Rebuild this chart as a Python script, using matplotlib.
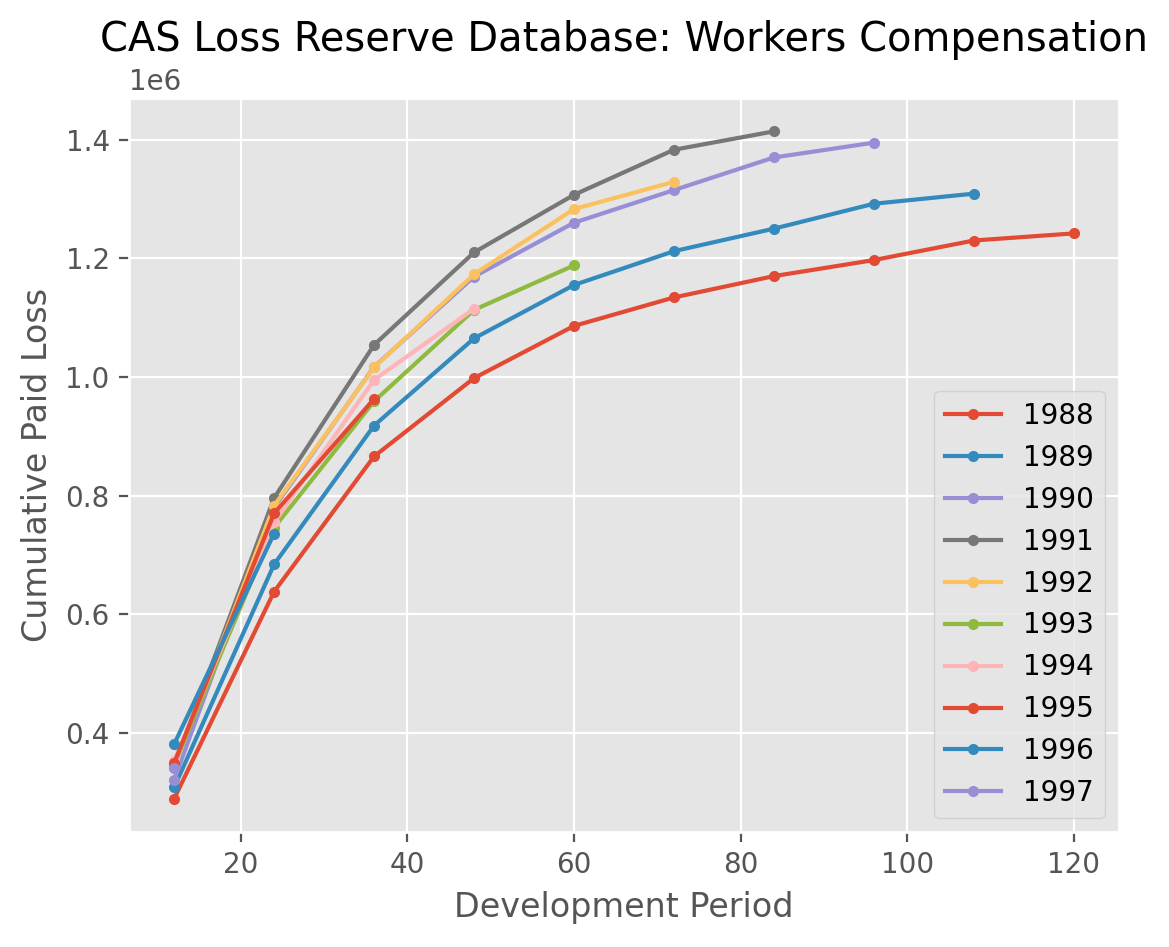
import matplotlib
matplotlib.use("Agg")
import matplotlib.pyplot as plt

plt.style.use("ggplot")

# 发展期（月）
periods = [12, 24, 36, 48, 60, 72, 84, 96, 108, 120]
years = [1988, 1989, 1990, 1991, 1992, 1993, 1994, 1995, 1996, 1997]

# 累计已付损失（百万）
paid_1988 = [0.289, 0.638, 0.866, 0.998, 1.086, 1.134, 1.170, 1.197, 1.230, 1.242]
paid_1989 = [0.308, 0.684, 0.918, 1.065, 1.155, 1.212, 1.250, 1.292, 1.309]
paid_1990 = [0.321, 0.780, 1.017, 1.169, 1.260, 1.315, 1.370, 1.395]
paid_1991 = [0.345, 0.796, 1.054, 1.210, 1.307, 1.383, 1.414]
paid_1992 = [0.343, 0.783, 1.016, 1.173, 1.283, 1.329]
paid_1993 = [0.347, 0.746, 0.959, 1.113, 1.188]
paid_1994 = [0.353, 0.755, 0.995, 1.115]
paid_1995 = [0.349, 0.770, 0.963]
paid_1996 = [0.381, 0.736]
paid_1997 = [0.341]

series = [paid_1988, paid_1989, paid_1990, paid_1991, paid_1992,
          paid_1993, paid_1994, paid_1995, paid_1996, paid_1997]

fig = plt.figure(figsize=(5.845, 4.735), dpi=200)
ax = fig.add_axes([0.1105, 0.1214, 0.8465, 0.7751])

for year, vals in zip(years, series):
    ax.plot(periods[:len(vals)], [v * 1e6 for v in vals], marker='.', label=str(year))

ax.set_title("CAS Loss Reserve Database: Workers Compensation")
ax.set_xlabel("Development Period")
ax.set_ylabel("Cumulative Paid Loss")
ax.legend(loc="lower right")

fig.savefig("out.png", dpi=200)
